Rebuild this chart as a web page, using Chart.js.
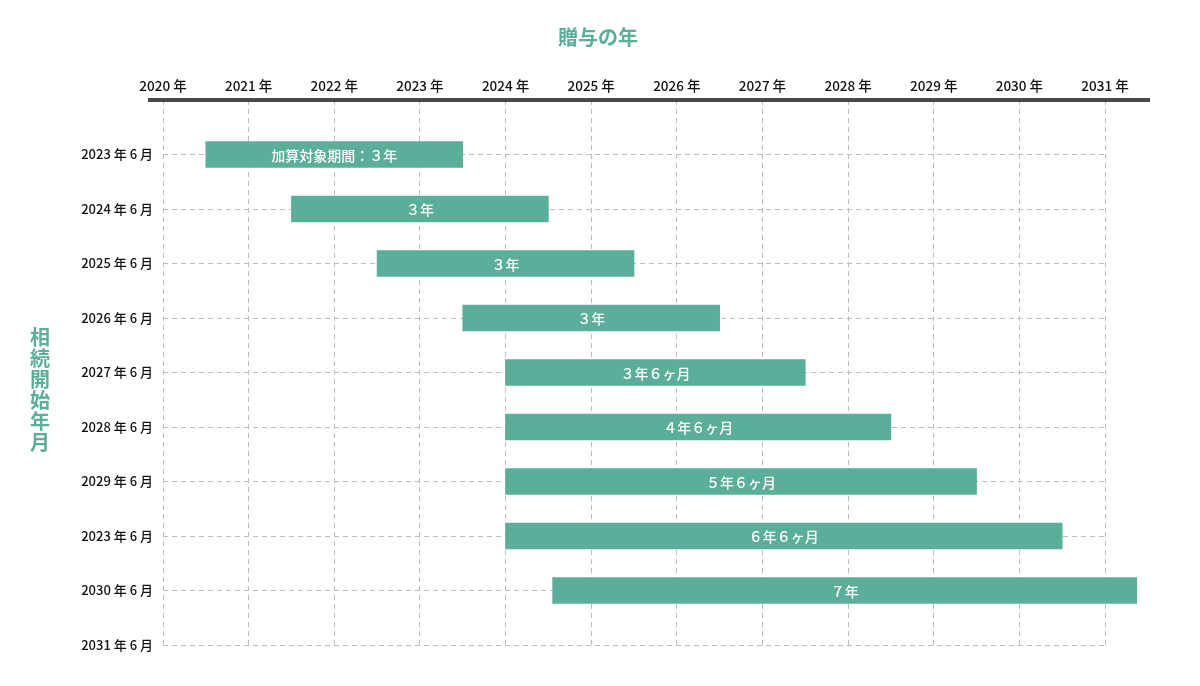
<!DOCTYPE html>
<html lang="ja">
<head>
<meta charset="utf-8">
<title>贈与の年</title>
<script src="https://cdn.jsdelivr.net/npm/chart.js@4/dist/chart.umd.min.js"></script>
<style>
  html, body { margin: 0; padding: 0; background: #fff; }
  #wrap { width: 1200px; height: 686px; }
</style>
</head>
<body>
<div id="wrap"><canvas id="chart" width="1200" height="686"></canvas></div>
<script>
// 行ラベル（相続開始年月）
const rowLabels = [
  '2023 年 6 月', '2024 年 6 月', '2025 年 6 月', '2026 年 6 月', '2027 年 6 月',
  '2028 年 6 月', '2029 年 6 月', '2023 年 6 月', '2030 年 6 月', '2031 年 6 月'
];
// 加算対象期間の開始と終了（年）
const startYears = [2020.5, 2021.5, 2022.5, 2023.5, 2024, 2024, 2024, 2024, 2024.55];
const endYears   = [2023.5, 2024.5, 2025.5, 2026.5, 2027.5, 2028.5, 2029.5, 2030.5, 2031.37];
const periodLabels = [
  '加算対象期間：３年', '３年', '３年', '３年', '３年６ヶ月',
  '４年６ヶ月', '５年６ヶ月', '６年６ヶ月', '７年'
];
const yearMin = 2020;
const yearMax = 2031;

const teal = 'rgb(90, 174, 154)';
const fontFamily = '"Noto Sans CJK JP", "Noto Sans", sans-serif';

// バーの中に期間のテキストを書く
const barLabelPlugin = {
  id: 'barLabels',
  afterDatasetsDraw(chart) {
    const ctx = chart.ctx;
    const meta = chart.getDatasetMeta(0);
    ctx.save();
    ctx.fillStyle = '#fff';
    ctx.font = '500 14px ' + fontFamily;
    ctx.textAlign = 'center';
    ctx.textBaseline = 'middle';
    meta.data.forEach((bar, i) => {
      const cx = (bar.x + bar.base) / 2;
      ctx.fillText(periodLabels[i], cx, bar.y + 1);
    });
    ctx.restore();
  }
};

// 上の太い軸線とタイトル
const decorPlugin = {
  id: 'decor',
  afterDraw(chart) {
    const ctx = chart.ctx;
    const area = chart.chartArea;
    ctx.save();
    ctx.strokeStyle = '#4a4a4a';
    ctx.lineWidth = 4;
    ctx.beginPath();
    ctx.moveTo(area.left - 15, area.top);
    ctx.lineTo(area.right + 45, area.top);
    ctx.stroke();

    ctx.fillStyle = teal;
    ctx.font = 'bold 20px ' + fontFamily;
    ctx.textAlign = 'center';
    ctx.textBaseline = 'middle';
    ctx.fillText('贈与の年', 598, 37);

    const vTitle = '相続開始年月';
    [...vTitle].forEach((ch, i) => {
      ctx.fillText(ch, 40, 337 + i * 21);
    });
    ctx.restore();
  }
};

const barData = startYears.map((s, i) => ({ y: i + 1, x: [s, endYears[i]] }));

new Chart(document.getElementById('chart'), {
  type: 'bar',
  data: {
    datasets: [{
      data: barData,
      backgroundColor: teal,
      borderWidth: 0,
      barThickness: 26,
      clip: false
    }]
  },
  options: {
    indexAxis: 'y',
    responsive: false,
    animation: false,
    layout: { padding: { top: 0, left: 0, right: 95, bottom: 41 } },
    plugins: {
      legend: { display: false },
      tooltip: { enabled: false }
    },
    scales: {
      x: {
        type: 'linear',
        position: 'top',
        min: yearMin,
        max: yearMax,
        afterFit: scale => { scale.height = 100; },
        ticks: {
          stepSize: 1,
          padding: 6,
          color: '#111',
          font: { family: fontFamily, size: 13.5, weight: '500' },
          callback: v => v + ' 年'
        },
        grid: {
          color: '#bdbdbd',
          lineWidth: 1,
          drawTicks: false
        },
        border: { display: false, dash: [5, 4] }
      },
      y: {
        type: 'linear',
        reverse: true,
        offset: false,
        min: 0,
        max: rowLabels.length,
        afterFit: scale => { scale.width = 163; },
        ticks: {
          stepSize: 1,
          padding: 10,
          color: '#111',
          font: { family: fontFamily, size: 13, weight: '500' },
          callback: v => (v >= 1 ? rowLabels[v - 1] : '')
        },
        grid: {
          offset: false,
          color: '#bdbdbd',
          lineWidth: 1,
          drawTicks: false
        },
        border: { display: false, dash: [5, 4] }
      }
    }
  },
  plugins: [barLabelPlugin, decorPlugin]
});
</script>
</body>
</html>
